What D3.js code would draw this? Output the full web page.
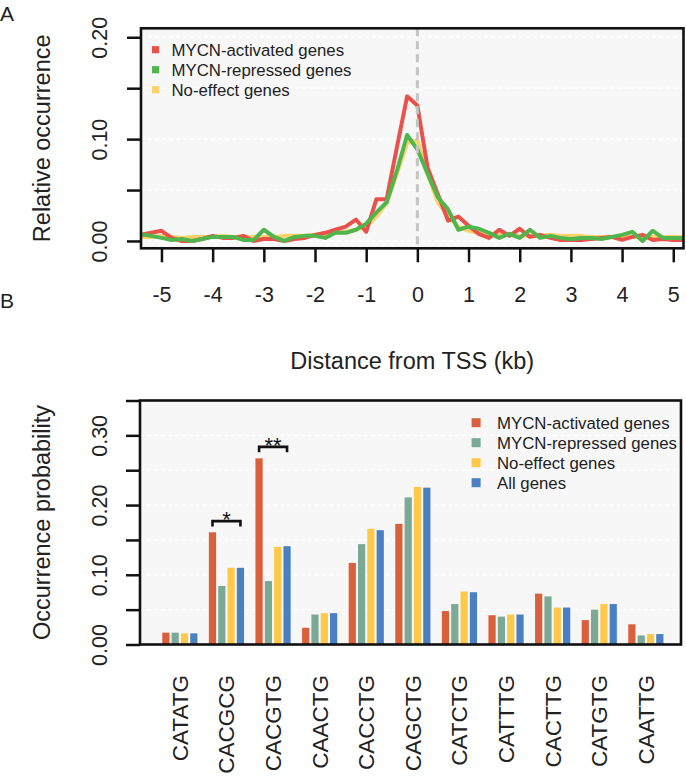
<!DOCTYPE html>
<html><head><meta charset="utf-8">
<script src="https://cdn.jsdelivr.net/npm/d3@7/dist/d3.min.js"></script>
<style>
html,body{margin:0;padding:0;background:#fff;}
svg{display:block;font-family:"Liberation Sans",Arial,Helvetica,sans-serif;}
</style></head>
<body>
<svg id="chart" width="686" height="778"></svg>
<script>
// ---------- Panel A data ----------
const distanceKb = [-5.4,-5.2,-5.0,-4.8,-4.6,-4.4,-4.2,-4.0,-3.8,-3.6,-3.4,-3.2,-3.0,-2.8,-2.6,-2.4,-2.2,-2.0,-1.8,-1.6,-1.4,-1.2,-1.0,-0.8,-0.6,-0.4,-0.2,0.0,0.2,0.4,0.6,0.8,1.0,1.2,1.4,1.6,1.8,2.0,2.2,2.4,2.6,2.8,3.0,3.2,3.4,3.6,3.8,4.0,4.2,4.4,4.6,4.8,5.0,5.2];
const activatedOcc = [0.006,0.008,0.010,0.003,0.000,0.000,0.002,0.005,0.003,0.003,0.005,0.000,0.002,0.002,0.000,0.002,0.003,0.006,0.008,0.011,0.014,0.021,0.009,0.041,0.041,0.092,0.142,0.133,0.072,0.046,0.020,0.024,0.015,0.007,0.003,0.011,0.005,0.012,0.004,0.006,0.003,0.001,0.001,0.001,0.002,0.003,0.004,0.001,0.004,0.006,0.001,0.002,0.001,0.001];
const repressedOcc = [0.0066,0.005,0.003,0.001,0.002,0.000,0.002,0.004,0.004,0.004,0.001,0.001,0.011,0.004,0.000,0.004,0.005,0.005,0.003,0.008,0.008,0.011,0.017,0.028,0.038,0.069,0.104,0.090,0.066,0.043,0.031,0.011,0.014,0.012,0.008,0.003,0.007,0.003,0.011,0.003,0.005,0.003,0.002,0.003,0.003,0.002,0.004,0.006,0.009,0.000,0.010,0.003,0.003,0.003];
const noEffectOcc = [0.004,0.004,0.005,0.004,0.003,0.004,0.004,0.004,0.005,0.004,0.004,0.004,0.004,0.004,0.005,0.005,0.005,0.006,0.007,0.008,0.009,0.011,0.014,0.024,0.037,0.066,0.096,0.099,0.066,0.038,0.024,0.014,0.010,0.008,0.007,0.006,0.006,0.005,0.005,0.005,0.006,0.005,0.005,0.005,0.004,0.004,0.004,0.005,0.004,0.004,0.004,0.004,0.004,0.004];
const lineSeriesNames = ["MYCN-activated genes","MYCN-repressed genes","No-effect genes"];
const lineColors = ["#E9524B","#50B54C","#FED26A"];
const xTicksA = [-5,-4,-3,-2,-1,0,1,2,3,4,5];
const yTicksA = [0,0.05,0.10,0.15,0.20];

// ---------- Panel B data ----------
const motifs = ["CATATG","CACGCG","CACGTG","CAACTG","CACCTG","CAGCTG","CATCTG","CATTTG","CACTTG","CATGTG","CAATTG"];
const activatedProb = [0.017,0.161,0.267,0.024,0.117,0.173,0.048,0.042,0.073,0.035,0.029];
const repressedProb = [0.017,0.084,0.091,0.043,0.144,0.211,0.058,0.040,0.069,0.050,0.013];
const noEffectProb  = [0.016,0.110,0.140,0.045,0.166,0.226,0.076,0.043,0.053,0.058,0.015];
const allGenesProb  = [0.016,0.110,0.141,0.045,0.164,0.225,0.075,0.043,0.053,0.058,0.015];
const barSeriesNames = ["MYCN-activated genes","MYCN-repressed genes","No-effect genes","All genes"];
const barColors = ["#DA603C","#7BA996","#FEC94A","#4A80C2"];
const yTicksB = [0,0.05,0.10,0.15,0.20,0.25,0.30,0.35];
const sigMotifs = ["CACGCG","CACGTG"];
const sigMarks = ["*","**"];
const sigLevels = [0.177,0.2835];

const svg = d3.select("#chart");
const BG = "#F7F7F7";
const FONT_TICK = 21.5, FONT_TITLE = 23.5, FONT_LEG = 16.8;

// ================= PANEL A =================
const A = {l:141, r:683.5, t:28.3, b:248.3};
const xA = d3.scaleLinear().domain([-5.4,5.2]).range([A.l,A.r]);
const yA = d3.scaleLinear().domain([-0.0072,0.2088]).range([A.b,A.t]);

svg.append("rect").attr("x",A.l).attr("y",A.t).attr("width",A.r-A.l).attr("height",A.b-A.t).attr("fill",BG);
svg.append("g").selectAll("line").data(yTicksA).join("line")
  .attr("x1",A.l).attr("x2",A.r).attr("y1",d=>yA(d)).attr("y2",d=>yA(d))
  .attr("stroke","#fff").attr("stroke-width",1.3).attr("stroke-dasharray","4,3");

svg.append("clipPath").attr("id","clipA").append("rect")
  .attr("x",A.l).attr("y",A.t).attr("width",A.r-A.l).attr("height",A.b-A.t);

const lineGen = d3.line().x((d,i)=>xA(distanceKb[i])).y(d=>yA(d));
const seriesA = [activatedOcc, repressedOcc, noEffectOcc];
const drawOrder = [2,0,1];
const gLines = svg.append("g").attr("clip-path","url(#clipA)");
drawOrder.forEach(k=>{
  gLines.append("path").datum(seriesA[k]).attr("d",lineGen)
    .attr("fill","none").attr("stroke",lineColors[k]).attr("stroke-width",4)
    .attr("stroke-linejoin","round").attr("stroke-linecap","round");
});
svg.append("line").attr("x1",xA(0)).attr("x2",xA(0)).attr("y1",A.t).attr("y2",A.b)
  .attr("stroke","#C4C4C4").attr("stroke-width",3).attr("stroke-dasharray","8,5");

const legA = svg.append("g");
lineSeriesNames.forEach((n,i)=>{
  const cy = 49.7 + i*20;
  legA.append("rect").attr("x",152).attr("y",cy-3.6).attr("width",7.2).attr("height",7.2).attr("fill",lineColors[i]);
  legA.append("text").attr("x",171.5).attr("y",cy+6).attr("font-size",FONT_LEG).attr("fill","#222").text(n);
});

svg.append("rect").attr("x",A.l).attr("y",A.t).attr("width",A.r-A.l).attr("height",A.b-A.t)
  .attr("fill","none").attr("stroke","#111").attr("stroke-width",2.6);

const yAxA = d3.axisLeft(yA).tickValues(yTicksA).tickSize(14).tickSizeOuter(0)
  .tickFormat(d=>(Math.round(d*100)%10===0)?d3.format(".2f")(d):"");
const gyA = svg.append("g").attr("transform",`translate(${A.l},0)`).call(yAxA);
gyA.select(".domain").remove();
gyA.selectAll(".tick line").attr("stroke","#111").attr("stroke-width",2.5);
gyA.selectAll(".tick text").attr("x",null).attr("dy",null).attr("text-anchor","middle")
  .attr("transform","translate(-34,0) rotate(-90)").attr("font-size",FONT_TICK).attr("fill","#222");

const xAxA = d3.axisBottom(xA).tickValues(xTicksA).tickSize(14).tickSizeOuter(0).tickPadding(24).tickFormat(d=>String(d));
const gxA = svg.append("g").attr("transform",`translate(0,${A.b})`).call(xAxA);
gxA.select(".domain").remove();
gxA.selectAll(".tick line").attr("stroke","#111").attr("stroke-width",2.5);
gxA.selectAll(".tick text").attr("font-size",FONT_TICK).attr("fill","#222");

svg.append("text").attr("transform",`translate(50,${(A.t+A.b)/2}) rotate(-90)`).attr("text-anchor","middle")
  .attr("font-size",FONT_TITLE).attr("fill","#222").text("Relative occurrence");
svg.append("text").attr("x",(A.l+A.r)/2).attr("y",369).attr("text-anchor","middle")
  .attr("font-size",FONT_TITLE).attr("fill","#222").text("Distance from TSS (kb)");
svg.append("text").attr("x",0).attr("y",21).attr("font-size",21).attr("fill","#222").text("A");
svg.append("text").attr("x",0).attr("y",308).attr("font-size",21).attr("fill","#222").text("B");

// ================= PANEL B =================
const B = {l:140, r:681, t:400.5, b:644.5};
const xB = d3.scaleLinear().domain([0,55]).range([151.9,664.5]);
const yB = d3.scaleLinear().domain([0,0.35]).range([B.b,B.t]);

svg.append("rect").attr("x",B.l).attr("y",B.t).attr("width",B.r-B.l).attr("height",B.b-B.t).attr("fill",BG);
svg.append("g").selectAll("line").data(yTicksB.filter(d=>d>0 && d<0.35)).join("line")
  .attr("x1",B.l).attr("x2",B.r).attr("y1",d=>yB(d)).attr("y2",d=>yB(d))
  .attr("stroke","#fff").attr("stroke-width",1.3).attr("stroke-dasharray","4,3");

const seriesB = [activatedProb, repressedProb, noEffectProb, allGenesProb];
const unitW = xB(1)-xB(0);
const gap = 2.1;
const gBars = svg.append("g");
seriesB.forEach((vals,j)=>{
  gBars.append("g").selectAll("rect").data(vals).join("rect")
    .attr("x",(d,i)=>xB(5*i+1+j)+gap/2)
    .attr("width",unitW-gap)
    .attr("y",d=>yB(d))
    .attr("height",d=>yB(0)-yB(d))
    .attr("fill",barColors[j]);
});

sigMotifs.forEach((m,k)=>{
  const i = motifs.indexOf(m);
  const x1 = xB(5*i+1.5), x2 = xB(5*i+4.5), y = yB(sigLevels[k]);
  svg.append("path").attr("d",`M${x1},${y+5.5}V${y}H${x2}V${y+5.5}`)
    .attr("fill","none").attr("stroke","#111").attr("stroke-width",2.6);
  svg.append("text").attr("x",(x1+x2)/2).attr("y",y+6).attr("text-anchor","middle")
    .attr("font-size",22).attr("fill","#111").text(sigMarks[k]);
});

const legB = svg.append("g");
barSeriesNames.forEach((n,i)=>{
  const cy = 422.7 + i*20;
  legB.append("rect").attr("x",471.6).attr("y",cy-4.5).attr("width",9).attr("height",9).attr("fill",barColors[i]);
  legB.append("text").attr("x",497).attr("y",cy+6).attr("font-size",FONT_LEG).attr("fill","#222").text(n);
});

svg.append("rect").attr("x",B.l).attr("y",B.t).attr("width",B.r-B.l).attr("height",B.b-B.t)
  .attr("fill","none").attr("stroke","#111").attr("stroke-width",2.6);

const yAxB = d3.axisLeft(yB).tickValues(yTicksB).tickSize(14).tickSizeOuter(0)
  .tickFormat(d=>(Math.round(d*100)%10===0)?d3.format(".2f")(d):"");
const gyB = svg.append("g").attr("transform",`translate(${B.l},0)`).call(yAxB);
gyB.select(".domain").remove();
gyB.selectAll(".tick line").attr("stroke","#111").attr("stroke-width",2.5);
gyB.selectAll(".tick text").attr("x",null).attr("dy",null).attr("text-anchor","middle")
  .attr("transform","translate(-33,0) rotate(-90)").attr("font-size",FONT_TICK).attr("fill","#222");

svg.append("g").selectAll("text").data(motifs).join("text")
  .attr("transform",(d,i)=>`translate(${xB(5*i+3)+8},675) rotate(-90)`)
  .attr("text-anchor","end").attr("font-size",22.5).attr("fill","#222").text(d=>d);

svg.append("text").attr("transform",`translate(50,${(B.t+B.b)/2}) rotate(-90)`).attr("text-anchor","middle")
  .attr("font-size",FONT_TITLE).attr("fill","#222").text("Occurrence probability");
</script>
</body></html>
